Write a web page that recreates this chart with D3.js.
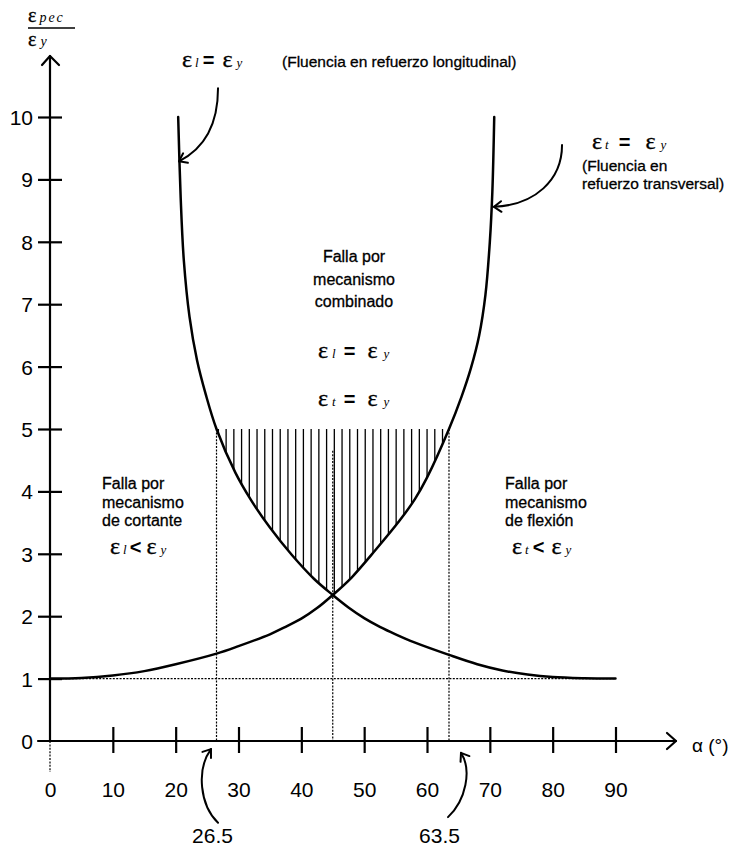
<!DOCTYPE html>
<html>
<head>
<meta charset="utf-8">
<script src="https://cdn.jsdelivr.net/npm/d3@7"></script>
<style>
  html, body { margin: 0; padding: 0; background: #fff; }
  svg { display: block; }
  text { font-family: "Liberation Sans", Arial, sans-serif; fill: #000; }
  .serif { font-family: "Liberation Serif", "Times New Roman", serif; }
  .eps { stroke: #000; stroke-width: 0.35px; }
  .lbl { font-size: 16px; stroke: #000; stroke-width: 0.3px; }
  .note { font-size: 15.5px; stroke: #000; stroke-width: 0.3px; }
</style>
</head>
<body>
<svg id="chart" width="736" height="847"></svg>
<script>
// Tick values: inclination angle α (degrees) and strain ratio ε_pec / ε_y
const alphaTicks = [0, 10, 20, 30, 40, 50, 60, 70, 80, 90];
const ratioTicks = [0, 1, 2, 3, 4, 5, 6, 7, 8, 9, 10];

// ε_l = ε_y : yielding of the longitudinal reinforcement
const longAlpha = [20.4, 20.8, 21.3, 22.2, 23.4, 24.8, 26.5, 29.5, 32.0, 35.0, 38.5, 42.0, 45.0, 47.5, 50.0, 52.5, 55.0, 58.0, 63.5, 68.0, 72.0, 76.0, 80.0, 85.0, 90.0];
const longRatio = [10.0, 8.7, 7.7, 6.8, 6.1, 5.55, 5.0, 4.3, 3.86, 3.42, 2.98, 2.6, 2.34, 2.14, 1.97, 1.83, 1.71, 1.58, 1.38, 1.23, 1.13, 1.065, 1.025, 1.006, 1.0];

// ε_t = ε_y : yielding of the transverse reinforcement
const transAlpha = [0, 5, 10, 15, 20, 26.5, 30, 35, 37.5, 40, 42.5, 45, 48, 51.8, 55.7, 58.1, 60, 63.5, 65.5, 67.0, 68.3, 69.3, 70.0, 70.4, 70.7];
const transRatio = [1.0, 1.01, 1.05, 1.12, 1.23, 1.40, 1.52, 1.71, 1.83, 1.96, 2.13, 2.34, 2.62, 3.06, 3.54, 3.88, 4.22, 5.0, 5.52, 5.98, 6.5, 7.15, 8.0, 8.8, 10.0];

// Combined-mechanism zone: ratio limit, bounding angles and the crossing point
const ratioLimit = 5;
const alphaLimits = [26.5, 63.5];
const alphaCross = 45;
const ratioCrossGuide = 4.65;
const ratioBase = 1;
const limitLabels = ["26.5", "63.5"];

const svg = d3.select("#chart");
const x = d3.scaleLinear().domain([0, 90]).range([50, 615.5]);
const y = d3.scaleLinear().domain([0, 10]).range([741, 117]);

const longPts = longAlpha.map((a, i) => [a, longRatio[i]]);
const transPts = transAlpha.map((a, i) => [a, transRatio[i]]);

const smooth = d3.curveCatmullRom.alpha(0.5);
const curve = d3.line().x(d => x(d[0])).y(d => y(d[1])).curve(smooth);
const above = d3.area().x(d => x(d[0])).y0(y(10.6)).y1(d => y(d[1])).curve(smooth);

const defs = svg.append("defs");
defs.append("clipPath").attr("id", "aboveLong").append("path").attr("d", above(longPts));
defs.append("clipPath").attr("id", "aboveTrans").append("path").attr("d", above(transPts));

// Hatched zone: above both yield curves and below the ratio limit
const hatchStep = 1.23;
const hatchAlphas = d3.range(alphaLimits[0] + 0.3, alphaLimits[1], hatchStep);
svg.append("g").attr("clip-path", "url(#aboveLong)")
  .append("g").attr("clip-path", "url(#aboveTrans)")
  .selectAll("line").data(hatchAlphas).join("line")
  .attr("x1", d => x(d)).attr("x2", d => x(d))
  .attr("y1", y(ratioLimit)).attr("y2", y(0))
  .attr("stroke", "#000").attr("stroke-width", 1.3);

// Dotted guide lines
const dotted = svg.append("g").attr("stroke", "#000").attr("stroke-width", 1.2)
  .attr("stroke-dasharray", "2,1.4").attr("fill", "none");
alphaLimits.forEach(a => {
  dotted.append("line").attr("x1", x(a)).attr("x2", x(a)).attr("y1", y(ratioLimit)).attr("y2", y(0));
});
dotted.append("line").attr("x1", x(alphaCross)).attr("x2", x(alphaCross))
  .attr("y1", y(ratioCrossGuide)).attr("y2", y(0));
dotted.append("line").attr("x1", x(0) - 12).attr("x2", x(90))
  .attr("y1", y(ratioBase)).attr("y2", y(ratioBase));
dotted.append("line").attr("x1", x(0)).attr("x2", x(0))
  .attr("y1", y(0)).attr("y2", y(0) + 31);

// Yield curves
[longPts, transPts].forEach(pts => {
  svg.append("path").attr("d", curve(pts)).attr("fill", "none")
    .attr("stroke", "#000").attr("stroke-width", 2.5).attr("stroke-linecap", "round");
});

// Axes
const axisStyle = g => {
  g.select(".domain").remove();
  g.selectAll(".tick line").attr("stroke", "#000").attr("stroke-width", 2.2);
  g.selectAll(".tick text").attr("font-size", 21)
    .attr("font-family", "'Liberation Sans', Arial, sans-serif").attr("fill", "#000");
};

const yAxis = svg.append("g").attr("transform", `translate(${x(0)},0)`)
  .call(d3.axisLeft(y).tickValues(ratioTicks).tickFormat(d3.format("d")).tickSize(12).tickPadding(5))
  .call(axisStyle);
yAxis.selectAll(".tick line").attr("x1", -12).attr("x2", 12)
  .attr("display", d => d === 0 ? "none" : null);
yAxis.selectAll(".tick text").attr("dy", "0.36em");

const xAxis = svg.append("g").attr("transform", `translate(0,${y(0)})`)
  .call(d3.axisBottom(x).tickValues(alphaTicks).tickFormat(d3.format("d")).tickSize(13).tickPadding(28))
  .call(axisStyle);
xAxis.selectAll(".tick line").attr("y1", -14).attr("y2", 12)
  .attr("display", d => d === 0 ? "none" : null);

// Axis lines with open arrowheads
const ax = svg.append("g").attr("stroke", "#000").attr("stroke-width", 2.2).attr("fill", "none")
  .attr("stroke-linecap", "round").attr("stroke-linejoin", "round");
ax.append("line").attr("x1", x(0) - 12).attr("x2", 676).attr("y1", y(0)).attr("y2", y(0));
ax.append("path").attr("d", `M${667},${y(0) - 8}L${676},${y(0)}L${667},${y(0) + 8}`);
ax.append("line").attr("x1", x(0)).attr("x2", x(0)).attr("y1", y(0)).attr("y2", 56);
ax.append("path").attr("d", `M${x(0) - 8},${65}L${x(0)},${56}L${x(0) + 9},${65}`);

svg.append("text").attr("x", 692).attr("y", 752).attr("font-size", 19).text("α (°)");

// Y axis title: ε_pec / ε_y
const yt = svg.append("g");
const t1 = yt.append("text").attr("x", 28).attr("y", 22);
t1.append("tspan").attr("class", "serif eps").attr("font-size", 20).text("ε");
t1.append("tspan").attr("class", "serif").attr("font-size", 14).attr("font-style", "italic")
  .attr("dx", 3).attr("letter-spacing", 2).text("pec");
yt.append("line").attr("x1", 28).attr("x2", 75).attr("y1", 28).attr("y2", 28)
  .attr("stroke", "#000").attr("stroke-width", 1.5);
const t2 = yt.append("text").attr("x", 28).attr("y", 46);
t2.append("tspan").attr("class", "serif eps").attr("font-size", 20).text("ε");
t2.append("tspan").attr("class", "serif").attr("font-size", 14).attr("font-style", "italic")
  .attr("dx", 4).text("y");

// Strain relations such as "ε l = ε y"
function relation(px, py, subA, op, gaps) {
  const t = svg.append("text").attr("x", px).attr("y", py);
  t.append("tspan").attr("class", "serif eps").attr("font-size", 24).text("ε");
  t.append("tspan").attr("class", "serif").attr("font-size", 13).attr("font-style", "italic")
    .attr("dx", gaps[0]).text(subA);
  t.append("tspan").attr("font-size", 20).attr("font-weight", "bold").attr("dx", gaps[1]).text(op);
  t.append("tspan").attr("class", "serif eps").attr("font-size", 24).attr("dx", gaps[2]).text("ε");
  t.append("tspan").attr("class", "serif").attr("font-size", 13).attr("font-style", "italic")
    .attr("dx", gaps[3]).text("y");
  return t;
}

relation(182, 67, "l", "=", [3, 4, 8, 4]);
svg.append("text").attr("class", "note").attr("x", 282).attr("y", 67)
  .text("(Fluencia en refuerzo longitudinal)");

relation(592, 149, "t", "=", [3, 10, 15, 5]);
svg.append("text").attr("class", "note").attr("x", 582).attr("y", 171).text("(Fluencia en");
svg.append("text").attr("class", "note").attr("x", 582).attr("y", 189).text("refuerzo transversal)");

// Region labels
function block(px, py, lines, anchor, step) {
  const t = svg.append("text").attr("class", "lbl").attr("text-anchor", anchor);
  lines.forEach((s, i) => t.append("tspan").attr("x", px).attr("y", py + i * step).text(s));
}
block(354, 262, ["Falla por", "mecanismo", "combinado"], "middle", 22.5);
relation(318, 358, "l", "=", [4, 8, 12, 6]);
relation(318, 406, "t", "=", [4, 8, 12, 6]);

block(102, 489, ["Falla por", "mecanismo", "de cortante"], "start", 18.5);
relation(110, 554, "l", "<", [3, 3, 5, 4]);

block(505, 489, ["Falla por", "mecanismo", "de flexión"], "start", 18.5);
relation(512, 554, "t", "<", [3, 4, 7, 4]);

// Limit angle labels below the axis
limitLabels.forEach((s, i) => {
  const cx = i === 0 ? 212.5 : 439.5;
  svg.append("text").attr("x", cx).attr("y", 843).attr("text-anchor", "middle")
    .attr("font-size", 21).text(s);
});

// Curved pointer arrows, given in chart units [α, ratio]
const pointers = [
  [[26.74, 10.46], [26.74, 9.87], [24.67, 9.50], [20.53, 9.29]],
  [[81.49, 9.55], [81.49, 8.99], [77.19, 8.59], [70.66, 8.56]],
  [[26.74, -1.31], [23.87, -1.03], [23.24, -0.46], [25.62, -0.13]],
  [[63.34, -1.22], [66.21, -0.95], [67.16, -0.46], [65.41, -0.19]]
];
const pg = svg.append("g").attr("stroke", "#000").attr("stroke-width", 2).attr("fill", "none")
  .attr("stroke-linecap", "round").attr("stroke-linejoin", "round");
pointers.forEach(p => {
  const q = p.map(d => [x(d[0]), y(d[1])]);
  pg.append("path").attr("d", `M${q[0]}C${q[1]} ${q[2]} ${q[3]}`);
  const ang = Math.atan2(q[3][1] - q[2][1], q[3][0] - q[2][0]);
  const L = 9, spread = Math.PI / 5;
  const a1 = [q[3][0] - L * Math.cos(ang - spread), q[3][1] - L * Math.sin(ang - spread)];
  const a2 = [q[3][0] - L * Math.cos(ang + spread), q[3][1] - L * Math.sin(ang + spread)];
  pg.append("path").attr("d", `M${a1}L${q[3]}L${a2}`);
});
</script>
</body>
</html>
